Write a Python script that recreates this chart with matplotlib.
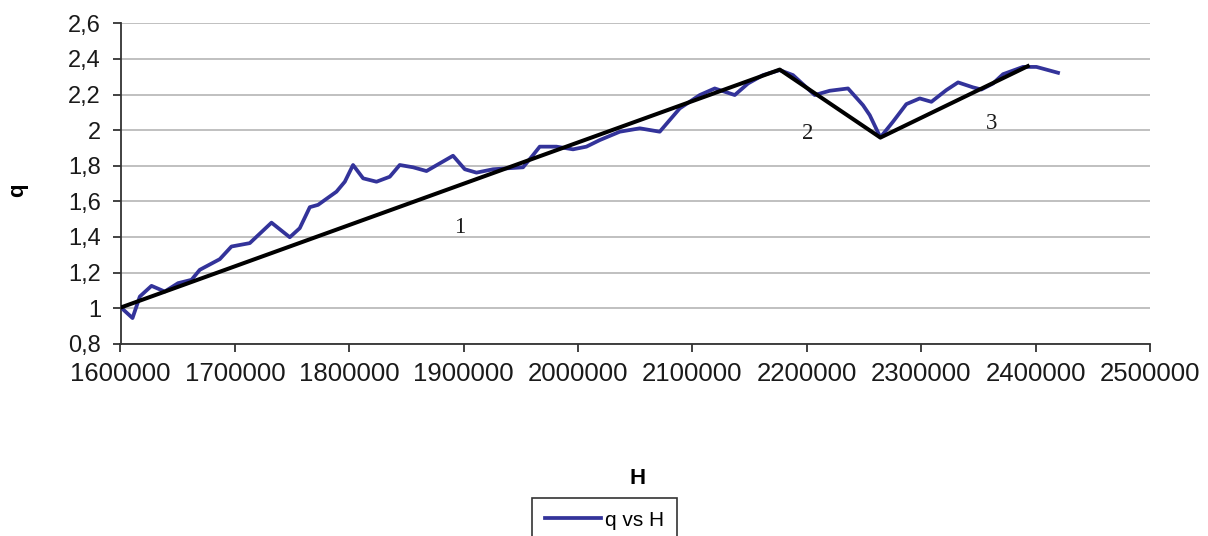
import matplotlib
matplotlib.use("Agg")
import matplotlib.pyplot as plt
from matplotlib.ticker import FuncFormatter, MultipleLocator

# Measured curve q vs H
H = [1601000, 1610500, 1616900, 1627100, 1638700, 1650300, 1662100, 1669300,
     1686800, 1697000, 1713000, 1732000, 1748000, 1756700, 1765500, 1772700,
     1788800, 1796100, 1803300, 1812100, 1823800, 1835400, 1844100, 1855800,
     1867500, 1879100, 1890700, 1901000, 1911200, 1925700, 1937400, 1951900,
     1960700, 1966500, 1981100, 1995600, 2007300, 2019000, 2036500, 2054000,
     2071400, 2088900, 2106400, 2119500, 2137000, 2148600, 2161700, 2176300,
     2187900, 2206900, 2220000, 2236000, 2249100, 2255000, 2264300, 2275300,
     2287000, 2298700, 2308900, 2322000, 2332200, 2345300, 2352600, 2362800,
     2371500, 2389000, 2400700, 2419600]
q = [1.00, 0.944, 1.065, 1.125, 1.093, 1.140, 1.159, 1.215,
     1.275, 1.346, 1.365, 1.480, 1.398, 1.449, 1.567, 1.580,
     1.654, 1.710, 1.804, 1.729, 1.710, 1.738, 1.804, 1.791,
     1.770, 1.813, 1.856, 1.780, 1.761, 1.780, 1.785, 1.791,
     1.860, 1.907, 1.907, 1.892, 1.907, 1.944, 1.991, 2.010,
     1.991, 2.122, 2.197, 2.234, 2.197, 2.262, 2.309, 2.337,
     2.309, 2.197, 2.221, 2.234, 2.140, 2.084, 1.959, 2.047,
     2.146, 2.178, 2.159, 2.225, 2.268, 2.240, 2.228, 2.262,
     2.314, 2.355, 2.355, 2.322]

# Piecewise trend line
trend_H = [1601000, 2176300, 2264300, 2393100]
trend_q = [1.005, 2.34, 1.958, 2.359]

# Segment labels
seg_labels = ["1", "2", "3"]
seg_H = [1896600, 2200800, 2361600]
seg_q = [1.455, 1.98, 2.035]

x_ticks = list(range(1600000, 2500001, 100000))

W, Hpx = 1208, 536
fig = plt.figure(figsize=(W / 100, Hpx / 100), dpi=100)
ax = fig.add_axes([120.5 / W, 1 - 343.7 / Hpx, (1150 - 120.5) / W, (343.7 - 23.3) / Hpx])

ax.plot(H, q, color="#33339A", lw=2.7, label="q vs H", zorder=3, solid_joinstyle="round")
ax.plot(trend_H, trend_q, color="black", lw=2.9, zorder=4)

for t, hx, qy in zip(seg_labels, seg_H, seg_q):
    ax.text(hx, qy, t, family="Liberation Serif", fontsize=16.5, ha="center", va="center", color="#1a1a1a")

ax.set_xlim(1600000, 2500000)
ax.set_ylim(0.8, 2.6)
ax.set_xticks(x_ticks)
ax.xaxis.set_major_formatter(FuncFormatter(lambda v, p: f"{int(round(v))}"))
ax.yaxis.set_major_locator(MultipleLocator(0.2))
ax.yaxis.set_major_formatter(FuncFormatter(lambda v, p: f"{round(v, 1):g}".replace(".", ",")))

ax.grid(axis="y", color="#C0C0C0", lw=1.4)
ax.set_axisbelow(True)
for s in ["top", "right"]:
    ax.spines[s].set_visible(False)
for s in ["left", "bottom"]:
    ax.spines[s].set_color("#333333")
    ax.spines[s].set_linewidth(1.3)

ax.tick_params(axis="x", direction="out", length=6, width=1.3, color="#333333",
               labelsize=18.5, pad=7, labelcolor="#1a1a1a")
ax.tick_params(axis="y", direction="out", length=6, width=1.3, color="#333333",
               labelsize=17, pad=8, labelcolor="#1a1a1a")
for lab in ax.get_xticklabels() + ax.get_yticklabels():
    lab.set_family("Liberation Sans")

fig.text(638 / W, 1 - 478 / Hpx, "H", family="Liberation Sans", fontweight="bold",
         fontsize=16, ha="center", va="center")
fig.text(18 / W, 1 - 190 / Hpx, "q", family="Liberation Sans", fontweight="bold",
         fontsize=16, ha="center", va="center", rotation=90)

leg = fig.legend(loc="upper center", bbox_to_anchor=(604.5 / W, 1 - 498 / Hpx),
                 prop={"family": "Liberation Sans", "size": 15},
                 frameon=True, fancybox=False, edgecolor="black",
                 handlelength=2.7, handletextpad=0.2, borderpad=0.6, borderaxespad=0)
leg.get_frame().set_linewidth(1.2)

fig.savefig("out.png", dpi=100)
